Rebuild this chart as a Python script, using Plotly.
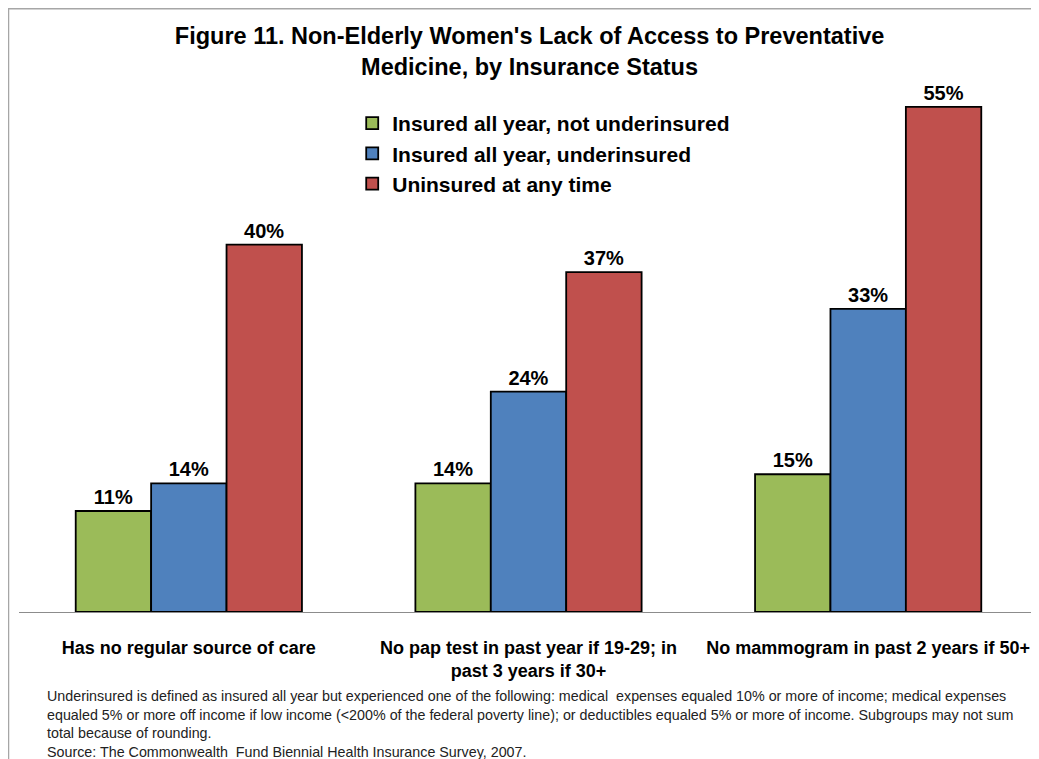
import plotly.graph_objects as go

categories = [
    "Has no regular source of care",
    "No pap test in past year if 19-29; in<br>past 3 years if 30+",
    "No mammogram in past 2 years if 50+",
]
series_names = [
    "Insured all year, not underinsured",
    "Insured all year, underinsured",
    "Uninsured at any time",
]
not_underinsured = [11, 14, 15]
underinsured = [14, 24, 33]
uninsured = [40, 37, 55]

colors = ["#9BBB59", "#4F81BD", "#C0504D"]
title_text = ("Figure 11. Non-Elderly Women's Lack of Access to Preventative<br>"
              "Medicine, by Insurance Status")
footnote = ("Underinsured is defined as insured all year but experienced one of the following: "
            "medical  expenses equaled 10% or more of income; medical expenses<br>"
            "equaled 5% or more off income if low income (<200% of the federal poverty line); "
            "or deductibles equaled 5% or more of income. Subgroups may not sum<br>"
            "total because of rounding.<br>"
            "Source: The Commonwealth  Fund Biennial Health Insurance Survey, 2007.")

FONT = "Liberation Sans"

fig = go.Figure()
for name, vals, col in zip(series_names, [not_underinsured, underinsured, uninsured], colors):
    fig.add_trace(go.Bar(
        name=name,
        x=categories,
        y=vals,
        marker=dict(color=col, line=dict(color="black", width=1.8)),
        text=[f"{v}%" for v in vals],
        textposition="outside",
        textfont=dict(family=FONT, size=20, color="black", weight="bold"),
        cliponaxis=False,
    ))

# page is offset by the 8px body margin, so margins are shifted to compensate
fig.update_layout(
    width=1039, height=759,
    barmode="group",
    bargap=0.334,
    bargroupgap=0,
    plot_bgcolor="white",
    paper_bgcolor="white",
    margin=dict(l=11, r=9, t=53, b=155),
    font=dict(family=FONT, color="black"),
    title=dict(text=f"<b>{title_text}</b>", x=0.502, xanchor="center",
               yref="container", y=0.952, yanchor="top",
               font=dict(family=FONT, size=23.5, color="black")),
    legend=dict(x=0.327, y=0.924, xanchor="left", yanchor="top",
                font=dict(family=FONT, size=21, color="black", weight="bold"),
                bgcolor="rgba(0,0,0,0)", tracegroupgap=0),
    xaxis=dict(showline=True, linecolor="#8c8c8c", linewidth=1.2, ticks="",
               ticklabelstandoff=19,
               tickfont=dict(family=FONT, size=18, color="black", weight="bold")),
    yaxis=dict(range=[0, 60], visible=False),
    showlegend=True,
)

fig.add_annotation(text=footnote, xref="paper", yref="paper", x=0.0255, y=-0.1345,
                   xanchor="left", yanchor="top", align="left", showarrow=False,
                   font=dict(family=FONT, size=14.3, color="#222"))

fig.add_shape(type="rect", xref="paper", yref="paper", x0=-0.0103, y0=-0.5, x1=1.1, y1=1.095,
              line=dict(color="#a6a6a6", width=1.5), fillcolor="rgba(0,0,0,0)", layer="below")

fig.write_html("out.html")
